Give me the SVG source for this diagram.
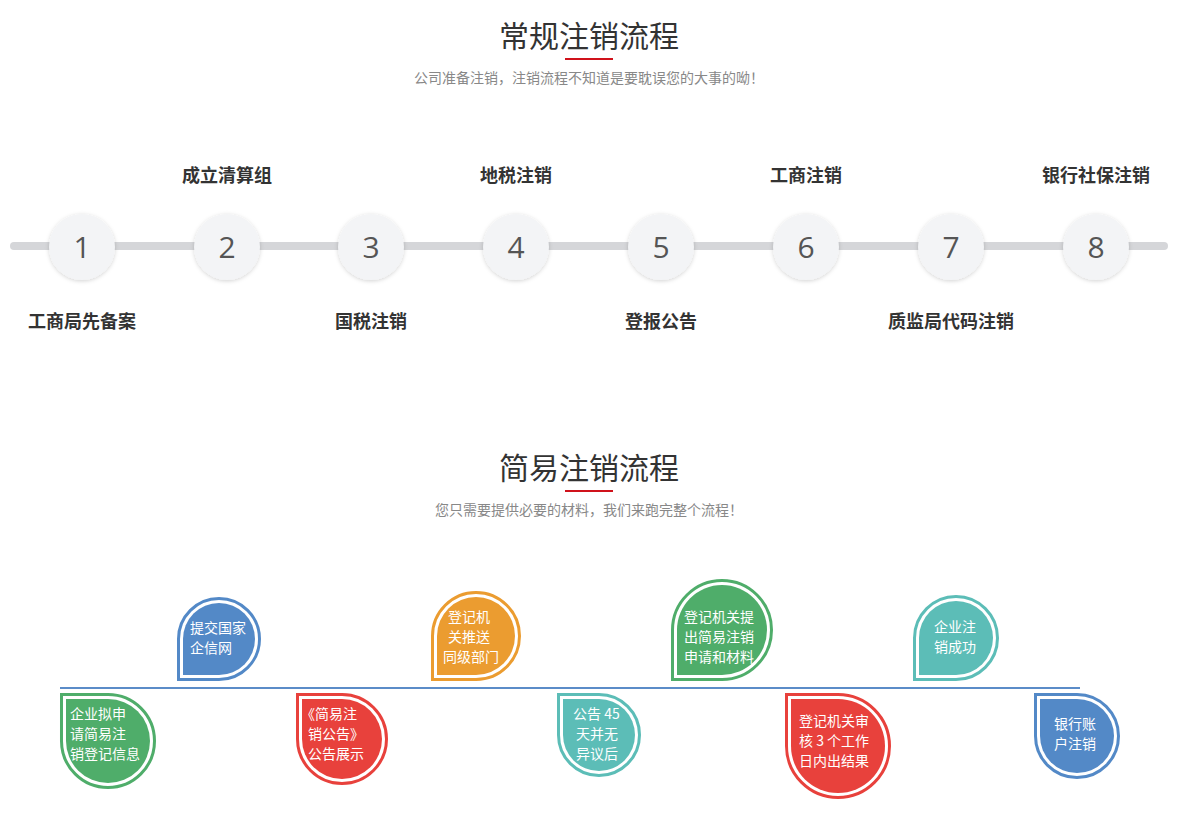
<svg xmlns="http://www.w3.org/2000/svg" width="1187" height="834" viewBox="0 0 1187 834">
<defs>
<filter id="sh" x="-30%" y="-30%" width="160%" height="160%"><feDropShadow dx="0" dy="1" stdDeviation="2" flood-color="#000" flood-opacity="0.18"/></filter>
</defs>
<style>
text{font-family:"Microsoft YaHei","Noto Sans CJK SC",sans-serif}
.t{font-size:30px;fill:#333;text-anchor:middle}
.s{font-size:14px;fill:#888;text-anchor:middle}
.lb{font-size:18px;font-weight:bold;fill:#333;text-anchor:middle}
.n{font-size:30px;fill:#555;text-anchor:middle;font-family:"Open Sans",sans-serif}
.c{fill:#f3f4f6;filter:url(#sh)}
.w{font-size:14px;fill:#fff}
.o{fill:none;stroke-width:3}
</style>
<rect width="1187" height="834" fill="#fff"/>
<text class="t" x="589" y="47">常规注销流程</text>
<rect x="565" y="58" width="48" height="2" fill="#d0121b"/>
<text class="s" x="589" y="83">公司准备注销，注销流程不知道是要耽误您的大事的呦！</text>
<text class="t" x="589" y="479">简易注销流程</text>
<rect x="565" y="490" width="48" height="2" fill="#d0121b"/>
<text class="s" x="589" y="515">您只需要提供必要的材料，我们来跑完整个流程！</text>
<g id="connectors">
<line x1="14" y1="246" x2="1164" y2="246" stroke="#d5d6d9" stroke-width="8" stroke-linecap="round"/>
<line x1="60" y1="688" x2="1080" y2="688" stroke="#5b8cc8" stroke-width="2"/>
</g>
<g id="s1"><circle class="c" cx="82" cy="247" r="33"/><text class="n" x="82" y="258">1</text><text class="lb" x="82" y="328">工商局先备案</text></g>
<g id="s2"><circle class="c" cx="227" cy="247" r="33"/><text class="n" x="227" y="258">2</text><text class="lb" x="227" y="182">成立清算组</text></g>
<g id="s3"><circle class="c" cx="371" cy="247" r="33"/><text class="n" x="371" y="258">3</text><text class="lb" x="371" y="328">国税注销</text></g>
<g id="s4"><circle class="c" cx="516" cy="247" r="33"/><text class="n" x="516" y="258">4</text><text class="lb" x="516" y="182">地税注销</text></g>
<g id="s5"><circle class="c" cx="661" cy="247" r="33"/><text class="n" x="661" y="258">5</text><text class="lb" x="661" y="328">登报公告</text></g>
<g id="s6"><circle class="c" cx="806" cy="247" r="33"/><text class="n" x="806" y="258">6</text><text class="lb" x="806" y="182">工商注销</text></g>
<g id="s7"><circle class="c" cx="951" cy="247" r="33"/><text class="n" x="951" y="258">7</text><text class="lb" x="951" y="328">质监局代码注销</text></g>
<g id="s8"><circle class="c" cx="1096" cy="247" r="33"/><text class="n" x="1096" y="258">8</text><text class="lb" x="1096" y="182">银行社保注销</text></g>

<!-- top drops: square corner bottom-left at (x0,681) -->
<g id="d2"><path class="o" stroke="#5389c7" d="M178.5,679.5 V639 A40.5,40.5 0 1 1 219,679.5 Z"/><path fill="#5389c7" d="M183,675 V639 A36,36 0 1 1 219,675 Z"/>
<text class="w" x="190" y="633">提交国家</text><text class="w" x="190" y="653">企信网</text></g>
<g id="d4"><path class="o" stroke="#eb9c30" d="M432.5,679.5 V636 A43.5,43.5 0 1 1 476,679.5 Z"/><path fill="#eb9c30" d="M437,675 V636 A39,39 0 1 1 476,675 Z"/>
<text class="w" x="448" y="622">登记机</text><text class="w" x="448" y="642">关推送</text><text class="w" x="443" y="662">同级部门</text></g>
<g id="d6"><path class="o" stroke="#4fad6a" d="M672.5,679.5 V630 A49.5,49.5 0 1 1 722,679.5 Z"/><path fill="#4fad6a" d="M677,675 V630 A45,45 0 1 1 722,675 Z"/>
<text class="w" x="684" y="622">登记机关提</text><text class="w" x="684" y="642">出简易注销</text><text class="w" x="684" y="662">申请和材料</text></g>
<g id="d8"><path class="o" stroke="#5cbdb7" d="M914.5,679.5 V638 A41.5,41.5 0 1 1 956,679.5 Z"/><path fill="#5cbdb7" d="M919,675 V638 A37,37 0 1 1 956,675 Z"/>
<text class="w" x="934" y="632">企业注</text><text class="w" x="934" y="652">销成功</text></g>

<!-- bottom drops: square corner top-left at (x0,693) -->
<g id="d1"><path class="o" stroke="#4fad6a" d="M61.5,694.5 H108 A46.5,46.5 0 1 1 61.5,741 Z"/><path fill="#4fad6a" d="M66,699 H108 A42,42 0 1 1 66,741 Z"/>
<text class="w" x="70" y="719">企业拟申</text><text class="w" x="70" y="739">请简易注</text><text class="w" x="70" y="759">销登记信息</text></g>
<g id="d3"><path class="o" stroke="#e8413c" d="M297.5,694.5 H342 A44.5,44.5 0 1 1 297.5,739 Z"/><path fill="#e8413c" d="M302,699 H342 A40,40 0 1 1 302,739 Z"/>
<text class="w" x="301" y="719">《简易注</text><text class="w" x="308" y="739">销公告》</text><text class="w" x="308" y="759">公告展示</text></g>
<g id="d5"><path class="o" stroke="#5cbdb7" d="M558.5,694.5 H599 A40.5,40.5 0 1 1 558.5,735 Z"/><path fill="#5cbdb7" d="M563,699 H599 A36,36 0 1 1 563,735 Z"/>
<text class="w" x="573" y="719">公告 45</text><text class="w" x="576" y="739">天并无</text><text class="w" x="576" y="759">异议后</text></g>
<g id="d7"><path class="o" stroke="#e8413c" d="M786.5,694.5 H838 A51.5,51.5 0 1 1 786.5,746 Z"/><path fill="#e8413c" d="M791,699 H838 A47,47 0 1 1 791,746 Z"/>
<text class="w" x="799" y="726">登记机关审</text><text class="w" x="799" y="746">核 3 个工作</text><text class="w" x="799" y="766">日内出结果</text></g>
<g id="d9"><path class="o" stroke="#5389c7" d="M1035.5,694.5 H1077 A41.5,41.5 0 1 1 1035.5,736 Z"/><path fill="#5389c7" d="M1040,699 H1077 A37,37 0 1 1 1040,736 Z"/>
<text class="w" x="1054" y="729">银行账</text><text class="w" x="1054" y="749">户注销</text></g>
</svg>
